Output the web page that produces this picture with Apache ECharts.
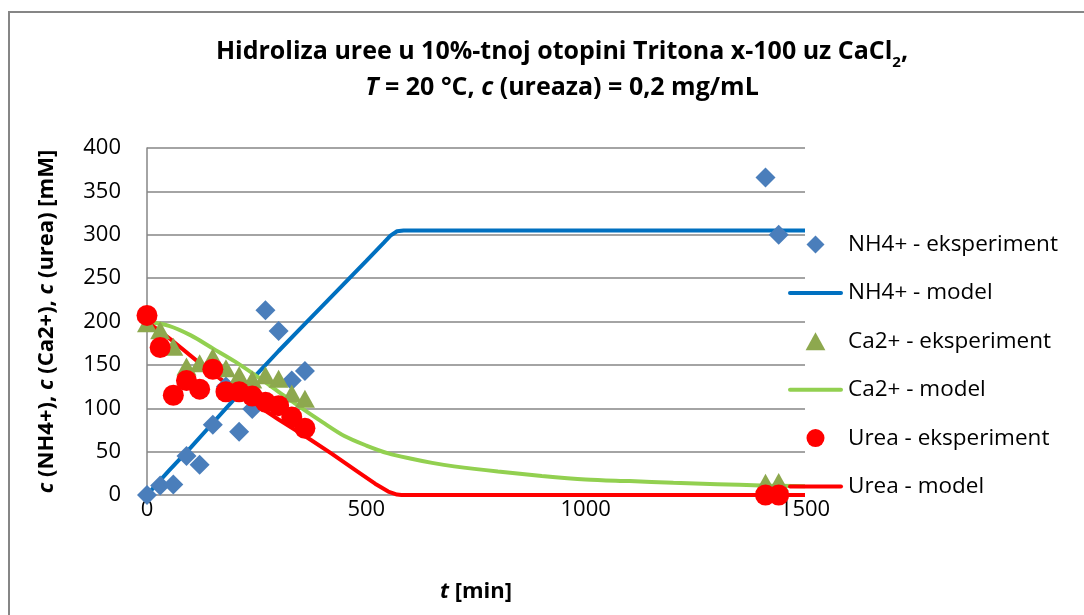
<!DOCTYPE html>
<html>
<head>
<meta charset="utf-8">
<script src="https://cdn.jsdelivr.net/npm/echarts@6/dist/echarts.min.js"></script>
<style>
  html, body { margin: 0; padding: 0; background: #fff; }
  #chart { width: 1084px; height: 615px; }
</style>
</head>
<body>
<div id="chart"></div>
<script>
// measured points, [t (min), c (mM)]
const nh4Exp = [[0, 0], [30, 11], [60, 12], [90, 45], [120, 35], [150, 81], [180, 125], [210, 73],
  [240, 99], [270, 213], [300, 189], [330, 132], [360, 143], [1410, 366], [1440, 300]];
const ca2Exp = [[0, 198], [30, 190], [60, 171], [90, 148], [120, 152], [150, 159], [180, 146], [210, 138],
  [240, 133], [270, 138], [300, 134], [330, 117], [360, 111], [1410, 14], [1440, 15]];
const ureaExp = [[0, 207], [30, 170], [60, 115], [90, 132], [120, 122], [150, 145], [180, 119], [210, 119],
  [240, 114], [270, 107], [300, 103], [330, 90], [360, 77], [1410, 0], [1440, 0]];

// model curves
const nh4Model = [[0, 0], [50, 28], [100, 55], [150, 83], [200, 111], [250, 139], [300, 166], [350, 192],
  [400, 218], [450, 244], [500, 270], [540, 291], [555, 299], [570, 304], [585, 305], [1500, 305]];
const ca2Model = [[0, 200], [50, 195], [100, 184], [150, 169], [200, 154], [250, 137], [300, 119], [350, 101],
  [400, 84], [450, 68], [500, 57], [550, 48], [600, 42], [650, 37], [700, 33], [800, 27], [900, 22],
  [1000, 18], [1100, 16], [1200, 14], [1300, 12.5], [1400, 11], [1500, 10]];
const ureaModel = [[0, 200], [60, 177], [120, 152], [180, 129], [240, 107], [300, 87], [360, 68], [420, 48],
  [480, 27], [520, 13], [550, 4], [570, 0.5], [580, 0], [1500, 0]];

const xTicks = { min: 0, max: 1500, interval: 500 };
const yTicks = { min: 0, max: 400, interval: 50 };

const FONT = '"Open Sans", Lato, sans-serif';
const GRID_COLOR = '#868686';

// legend icons: path icons keep their aspect inside the 55px item box
const ICON_DIAMOND = 'path://M0,-1L1,0L0,1L-1,0Z';
const ICON_TRIANGLE = 'path://M0,-1L1.1,1L-1.1,1Z';
const ICON_CIRCLE = 'path://M-1,0A1,1,0,1,0,1,0A1,1,0,1,0,-1,0Z';
const ICON_LINE = 'path://M2,0L53,0A2,2,0,0,1,53,4L2,4A2,2,0,0,1,2,0Z';

const chart = echarts.init(document.getElementById('chart'));

const boldRich = (size) => ({
  b: { fontFamily: FONT, fontWeight: 'bold', fontSize: size, color: '#000' },
  i: { fontFamily: FONT, fontWeight: 'bold', fontStyle: 'italic', fontSize: size, color: '#000' }
});

const option = {
  backgroundColor: '#fff',
  textStyle: { fontFamily: FONT, color: '#000' },
  title: {
    text: '{b|Hidroliza uree u 10%-tnoj otopini Tritona x-100 uz CaCl}{s|2}{b|,}\n' +
      '{i|T}{b| = 20 °C, }{i|c}{b| (ureaza) = 0,2 mg/mL}',
    left: 562,
    top: 34,
    textAlign: 'center',
    padding: 0,
    textStyle: {
      rich: {
        b: { fontFamily: FONT, fontWeight: 'bold', fontSize: 25, lineHeight: 36, color: '#000' },
        i: { fontFamily: FONT, fontWeight: 'bold', fontStyle: 'italic', fontSize: 25, lineHeight: 36, color: '#000' },
        s: { fontFamily: FONT, fontWeight: 'bold', fontSize: 15, lineHeight: 24, verticalAlign: 'bottom', color: '#000' }
      }
    }
  },
  legend: {
    orient: 'vertical',
    left: 788,
    top: 233,
    padding: 0,
    itemWidth: 55,
    itemHeight: 18,
    itemGap: 25.4,
    textStyle: { fontFamily: FONT, fontSize: 22.5, color: '#000' },
    data: [
      { name: 'NH4+ - eksperiment', icon: ICON_DIAMOND },
      { name: 'NH4+ - model', icon: ICON_LINE },
      { name: 'Ca2+ - eksperiment', icon: ICON_TRIANGLE },
      { name: 'Ca2+ - model', icon: ICON_LINE },
      { name: 'Urea - eksperiment', icon: ICON_CIRCLE },
      { name: 'Urea - model', icon: ICON_LINE }
    ]
  },
  grid: { left: 147, right: 279, top: 148, bottom: 120 },
  xAxis: {
    type: 'value',
    min: xTicks.min, max: xTicks.max, interval: xTicks.interval,
    name: '{i|t}{b| [min]}',
    nameLocation: 'middle',
    nameGap: 86,
    nameTextStyle: { rich: boldRich(22) },
    axisLine: { show: false },
    axisTick: { show: false },
    splitLine: { show: false },
    axisLabel: { fontFamily: FONT, fontSize: 22, color: '#000', margin: 4, formatter: v => String(v) }
  },
  yAxis: {
    type: 'value',
    min: yTicks.min, max: yTicks.max, interval: yTicks.interval,
    name: '{i|c}{b| (NH4+), }{i|c}{b| (Ca2+), }{i|c}{b| (urea) [mM]}',
    nameLocation: 'middle',
    nameGap: 89,
    nameRotate: 90,
    nameTextStyle: { rich: boldRich(22) },
    axisLine: { show: true, lineStyle: { color: GRID_COLOR, width: 1.5 } },
    axisTick: { show: false },
    splitLine: { show: true, lineStyle: { color: GRID_COLOR, width: 1.5 } },
    axisLabel: { fontFamily: FONT, fontSize: 22, color: '#000', margin: 26, formatter: v => String(v) }
  },
  graphic: [{
    type: 'rect',
    shape: { x: 9, y: 12, width: 1200, height: 800 },
    style: { fill: 'none', stroke: '#868686', lineWidth: 2 },
    silent: true
  }],
  series: [
    {
      name: 'NH4+ - eksperiment', type: 'scatter', data: nh4Exp, z: 3,
      symbol: 'diamond', symbolSize: 20, itemStyle: { color: '#4A7EBB', opacity: 1 }
    },
    {
      name: 'NH4+ - model', type: 'line', data: nh4Model, z: 2,
      symbol: 'none', lineStyle: { color: '#0070C0', width: 4 }, itemStyle: { color: '#0070C0' }
    },
    {
      name: 'Ca2+ - eksperiment', type: 'scatter', data: ca2Exp, z: 3,
      symbol: 'triangle', symbolSize: [20, 18], itemStyle: { color: '#8DA84E', opacity: 1 }
    },
    {
      name: 'Ca2+ - model', type: 'line', data: ca2Model, z: 2, smooth: 0.3,
      symbol: 'none', lineStyle: { color: '#92D050', width: 4 }, itemStyle: { color: '#92D050' }
    },
    {
      name: 'Urea - eksperiment', type: 'scatter', data: ureaExp, z: 3,
      symbol: 'circle', symbolSize: 21, itemStyle: { color: '#FF0000', opacity: 1 }
    },
    {
      name: 'Urea - model', type: 'line', data: ureaModel, z: 2,
      symbol: 'none', lineStyle: { color: '#FF0000', width: 4 }, itemStyle: { color: '#FF0000' }
    }
  ]
};

chart.setOption(option);
</script>
</body>
</html>
